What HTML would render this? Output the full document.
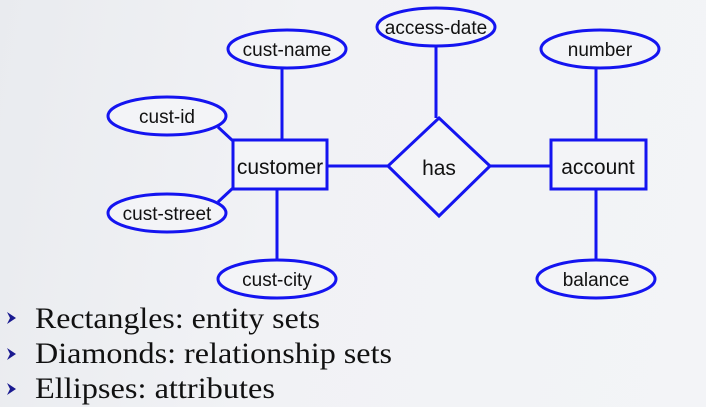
<!DOCTYPE html>
<html><head><meta charset="utf-8"><style>
html,body{margin:0;padding:0;}
body{width:706px;height:407px;overflow:hidden;background:linear-gradient(100deg,#e9ebef 0%,#f1f2f5 40%,#f3f4f7 100%);}
svg{position:absolute;left:0;top:0;}
</style></head><body>
<svg width="706" height="407" viewBox="0 0 706 407">
<g stroke="#1414f0" stroke-width="3" fill="none">
<line x1="282" y1="69" x2="282" y2="140"/>
<line x1="436" y1="46" x2="436" y2="118"/>
<line x1="596" y1="69" x2="596" y2="140"/>
<line x1="277" y1="189" x2="277" y2="259"/>
<line x1="596" y1="189" x2="596" y2="259"/>
<line x1="218" y1="127" x2="233" y2="141"/>
<line x1="233" y1="188" x2="218" y2="202"/>
<line x1="327" y1="166" x2="388" y2="166"/>
<line x1="490" y1="166" x2="551" y2="166"/>
<rect x="233" y="140" width="94" height="49" fill="#f3f4f7"/>
<rect x="551" y="140" width="95" height="49" fill="#f3f4f7"/>
<polygon points="439,118 490,166 439,216 388,166" fill="#f3f4f7"/>
<ellipse cx="287" cy="49" rx="59" ry="19" fill="#f3f4f7"/>
<ellipse cx="436" cy="27" rx="59" ry="19" fill="#f3f4f7"/>
<ellipse cx="600" cy="49" rx="59" ry="19" fill="#f3f4f7"/>
<ellipse cx="167" cy="116" rx="59" ry="19" fill="#f3f4f7"/>
<ellipse cx="167" cy="213" rx="59" ry="19" fill="#f3f4f7"/>
<ellipse cx="277" cy="279" rx="59" ry="19" fill="#f3f4f7"/>
<ellipse cx="596" cy="279" rx="59" ry="19" fill="#f3f4f7"/>
</g>
<g font-family="Liberation Sans, sans-serif" fill="#111" text-anchor="middle" font-size="19">
<text x="287" y="56">cust-name</text>
<text x="436" y="34">access-date</text>
<text x="600" y="56">number</text>
<text x="167" y="123">cust-id</text>
<text x="167" y="220">cust-street</text>
<text x="277" y="286">cust-city</text>
<text x="596" y="286">balance</text>
<text x="280" y="174" font-size="21">customer</text>
<text x="598" y="174" font-size="21">account</text>
<text x="439" y="175" font-size="21">has</text>
</g>
<g fill="#1a1a90">
<polygon points="7,312 16,318 7,324 10,318"/>
<polygon points="7,348 16,354 7,360 10,354"/>
<polygon points="7,383 16,389 7,395 10,389"/>
</g>
<g font-family="Liberation Serif, serif" fill="#111" font-size="30">
<text x="35" y="328" textLength="285" lengthAdjust="spacingAndGlyphs">Rectangles: entity sets</text>
<text x="35" y="363" textLength="357" lengthAdjust="spacingAndGlyphs">Diamonds: relationship sets</text>
<text x="35" y="398" textLength="240" lengthAdjust="spacingAndGlyphs">Ellipses: attributes</text>
</g>
</svg>
</body></html>
